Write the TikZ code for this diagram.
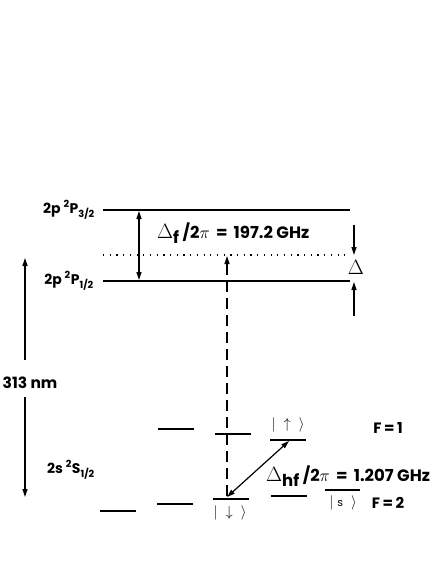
\documentclass[tikz,border=0pt]{standalone}
\usepackage{fontspec}
\setmainfont{Poppins}
\usetikzlibrary{arrows.meta,positioning}

\begin{document}
\begin{tikzpicture}[
  x=1pt,y=-1pt,
  >={Triangle[length=8pt,width=5pt]},
  every node/.style={font=\bfseries\fontsize{14}{16}\selectfont,inner sep=0pt},
  lvl/.style={line width=1.3pt},
  arc/.style={line width=1.2pt},
  lbl/.style={anchor=east},
  big/.style={font=\bfseries\fontsize{16.5}{18}\selectfont,anchor=west},
  ket/.style={font=\fontsize{14}{16}\selectfont}
]
\useasboundingbox (0,0) rectangle (436,564);
% fine structure levels
\coordinate (p3a) at (103,210); \coordinate (p3b) at (350,210);
\coordinate (pda) at (103,255); \coordinate (pdb) at (350,255);
\coordinate (p1a) at (103,281); \coordinate (p1b) at (350,281);
\draw[lvl] (p3a) -- (p3b);
\draw[lvl,dash pattern=on 1.2pt off 5.5pt] (pda) -- (pdb);
\draw[lvl] (p1a) -- (p1b);
\node[lbl] (np3) at (95,210) {2p \textsuperscript{2}P\textsubscript{3/2}};
\node[lbl] (np1) at (94,281) {2p \textsuperscript{2}P\textsubscript{1/2}};
\coordinate (f3) at (139,211); \coordinate (f1) at (139,280);
\draw[arc,<->] (f3) -- (f1);
\node[big] (nf) at (157,233) {{\fontsize{20}{20}\selectfont$\Delta$}\raisebox{-0.5ex}{f} /2$\pi$ \,=\, 197.2 GHz};
% detuning
\coordinate (dt) at (354,225); \coordinate (db) at (354,316);
\draw[arc,->] (dt) -- (pdb-|dt);
\draw[arc,->] (db) -- ([yshift=-1pt]p1b-|db);
\node (nd) at (356,267) {\fontsize{22}{22}\selectfont$\Delta$};
% 313 nm
\node (nnm) at (30,383) {\fontsize{15.5}{17}\selectfont 313 nm};
\coordinate (ua) at (25,360); \coordinate (ub) at (25,258);
\coordinate (da) at (25,397); \coordinate (db2) at (25,497);
\draw[arc,->] (ua) -- (ub);
\draw[arc,->] (da) -- (db2);
\node[lbl] (ns) at (95,470) {2s \textsuperscript{2}S\textsubscript{1/2}};
% hyperfine levels F=1
\draw[lvl] (158,429) -- (194,429);
\draw[lvl] (215,434) -- (251,434);
\coordinate (upa) at (270,440); \coordinate (upb) at (306,440);
\draw[lvl] (upa) -- (upb);
% hyperfine levels F=2
\draw[lvl] (100,511) -- (136,511);
\draw[lvl] (157,504) -- (193,504);
\coordinate (dna) at (213,499); \coordinate (dnb) at (249,499);
\draw[lvl] (dna) -- (dnb);
\draw[lvl] (271,496) -- (307,496);
\coordinate (sa) at (325,490); \coordinate (sb) at (360,490);
\draw[lvl] (sa) -- (sb);
\node[ket] (nup) at (288,425) {$|\;\uparrow\;\;\rangle$};
\node[ket] (ndn) at (230,513) {$|\;\downarrow\;\;\rangle$};
\node[ket] (nsk) at (343,503) {$|\;${\fontsize{11}{12}\selectfont s}$\;\;\rangle$};
\node (nF1) at (388,428) {\fontsize{15}{16}\selectfont F\,=\,1};
\node (nF2) at (388,503) {\fontsize{15}{16}\selectfont F\,=\,2};
% laser and microwave
\coordinate (lb) at (227,496); \coordinate (lt) at (227,256);
\draw[arc,->,dash pattern=on 11pt off 6pt] (lb) -- (lt);
\coordinate (ha) at (227,497); \coordinate (hb) at (289,441);
\draw[arc,<->] (ha) -- (hb);
\node[big] (nhf) at (266,476) {{\fontsize{20}{20}\selectfont$\Delta$}\raisebox{-0.5ex}{hf} /2$\pi$ \,=\, 1.207 GHz};
\end{tikzpicture}
\end{document}
